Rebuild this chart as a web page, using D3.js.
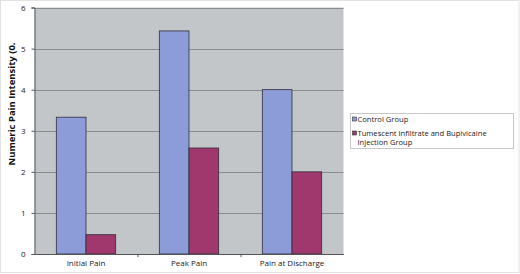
<!DOCTYPE html>
<html>
<head>
<meta charset="utf-8">
<script src="https://cdn.jsdelivr.net/npm/d3@7"></script>
<style>
  body { margin: 0; background: #fff; }
  text { font-family: "Open Sans", "DejaVu Sans", sans-serif; }
</style>
</head>
<body>
<div id="vis"></div>
<script>
// Data
const categories = ['Initial Pain', 'Peak Pain', 'Pain at Discharge'];
const groups = ['Control Group', 'Tumescent Infiltrate and Bupivicaine Injection Group'];
const control_values = [3.33, 5.43, 4.0];
const tumescent_values = [0.47, 2.58, 2.0];
const y_ticks = [0, 1, 2, 3, 4, 5, 6];
const colors = ['#8c9cd8', '#a0386d'];

const width = 520;
const height = 274;
const plot = {left: 34.5, right: 343.5, top: 7.5, bottom: 254};

const svg = d3.select('#vis').append('svg')
    .attr('width', width)
    .attr('height', height);

// outer border
svg.append('rect')
    .attr('x', 0.5).attr('y', 0.5)
    .attr('width', width - 1.5).attr('height', height - 2)
    .attr('fill', '#fff')
    .attr('stroke', '#e2e2e2');

const x = d3.scaleBand()
    .domain(categories)
    .range([plot.left, plot.right]);

const y = d3.scaleLinear()
    .domain([0, 6])
    .range([plot.bottom, plot.top]);

// plot background
svg.append('rect')
    .attr('x', plot.left).attr('y', plot.top)
    .attr('width', plot.right - plot.left)
    .attr('height', plot.bottom - plot.top)
    .attr('fill', '#c2c6c9');

// gridlines
svg.append('g')
    .selectAll('line')
    .data(y_ticks.filter(d => d > 0))
    .join('line')
    .attr('x1', plot.left).attr('x2', plot.right)
    .attr('y1', d => Math.round(y(d)) + 0.5)
    .attr('y2', d => Math.round(y(d)) + 0.5)
    .attr('stroke', '#8a8d90')
    .attr('stroke-width', 1);

// bars
const barW = x.bandwidth() / (2 + 1.47);
const groupData = categories.map((c, i) => ({cat: c, vals: [control_values[i], tumescent_values[i]]}));

svg.append('g')
    .selectAll('g')
    .data(groupData)
    .join('g')
    .selectAll('rect')
    .data(d => d.vals.map((v, j) => ({cat: d.cat, v: v, j: j})))
    .join('rect')
    .attr('x', d => x(d.cat) + (x.bandwidth() - 2 * barW) / 2 + d.j * barW)
    .attr('y', d => y(d.v))
    .attr('width', barW)
    .attr('height', d => y(0) - y(d.v))
    .attr('fill', d => colors[d.j])
    .attr('stroke', '#2e2e3a')
    .attr('stroke-width', 0.8);

// y axis
const yAxis = svg.append('g')
    .attr('transform', `translate(${plot.left},0)`)
    .call(d3.axisLeft(y).tickValues(y_ticks).tickSize(3).tickPadding(6).tickFormat(d3.format('d')));
yAxis.select('.domain').attr('stroke', '#555');
yAxis.selectAll('.tick line').attr('stroke', '#555');
yAxis.selectAll('text').attr('font-size', 8).attr('fill', '#222');

// x axis
const xAxis = svg.append('g')
    .attr('transform', `translate(0,${plot.bottom})`)
    .call(d3.axisBottom(x).tickSize(0).tickPadding(6));
xAxis.select('.domain').attr('stroke', '#555');
xAxis.selectAll('text').attr('font-size', 8).attr('fill', '#222');

// category separator ticks
svg.append('g')
    .selectAll('line')
    .data(categories.slice(1))
    .join('line')
    .attr('x1', d => x(d) + 0.5).attr('x2', d => x(d) + 0.5)
    .attr('y1', plot.bottom).attr('y2', plot.bottom + 3)
    .attr('stroke', '#555');

// y axis title
svg.append('text')
    .attr('transform', `translate(15,104) rotate(-90)`)
    .attr('text-anchor', 'middle')
    .attr('font-size', 9.5)
    .attr('font-weight', 'bold')
    .attr('fill', '#111')
    .text('Numeric Pain Intensity (0.');

// legend
const legend = svg.append('g');
legend.append('rect')
    .attr('x', 350.5).attr('y', 113.5)
    .attr('width', 163).attr('height', 35)
    .attr('fill', '#fff')
    .attr('stroke', '#c8c8c8');

// legend entries: swatch row, then one text per line
const legendLines = [['Control Group'], ['Tumescent Infiltrate and Bupivicaine', 'Injection Group']];
const legendY = [122, 136];

legendLines.forEach((lines, i) => {
    legend.append('rect')
        .attr('x', 352.5).attr('y', legendY[i] - 5)
        .attr('width', 4).attr('height', 4)
        .attr('fill', colors[i])
        .attr('stroke', '#333')
        .attr('stroke-width', 0.6);
    lines.forEach((line, k) => {
        legend.append('text')
            .attr('x', 357.5)
            .attr('y', legendY[i] + k * 8.5)
            .attr('font-size', 7.6)
            .attr('fill', '#222')
            .text(line);
    });
});
</script>
</body>
</html>
